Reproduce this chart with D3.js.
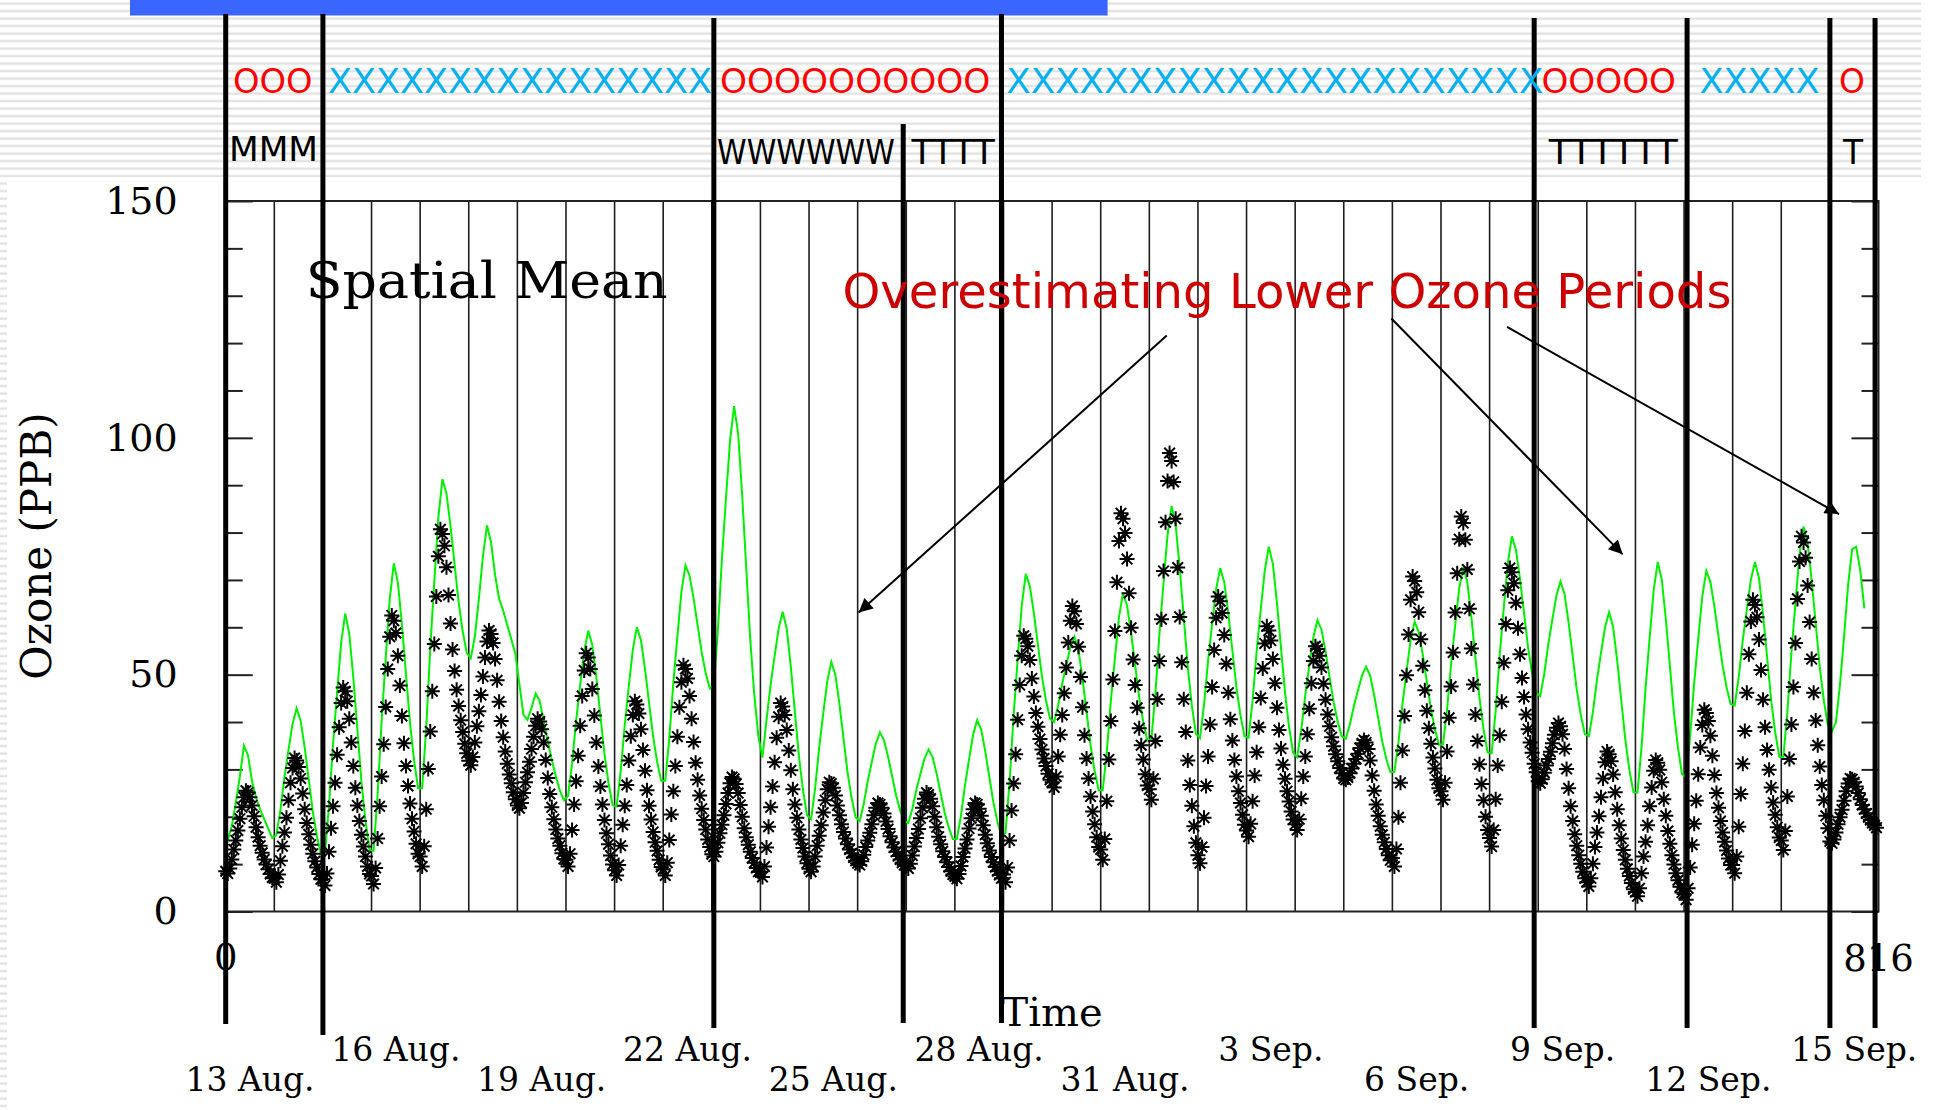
<!DOCTYPE html>
<html>
<head>
<meta charset="utf-8">
<title>Spatial Mean Ozone</title>
<script src="https://cdn.jsdelivr.net/npm/d3@7/dist/d3.min.js"></script>
<style>
  html, body { margin: 0; padding: 0; background: #fff; }
  svg { display: block; }
  .serif { font-family: "DejaVu Serif", serif; fill: #000; }
  .sans { font-family: "DejaVu Sans", Verdana, sans-serif; }
</style>
</head>
<body>
<svg id="chart" width="1934" height="1110"></svg>
<script>
// ---------------- data ----------------
const hourDomain = [0, 816];          // 13 Aug 00h .. 16 Sep 00h
const valueDomain = [0, 150];         // ppb
const yLabelValues = [0, 50, 100, 150];
const yMinorValues = [10, 20, 30, 40, 60, 70, 80, 90, 110, 120, 130, 140];

// date labels: day index (from 13 Aug) and row (1 = upper, 2 = lower)
const dateDays   = [0, 3, 6, 9, 12, 15, 18, 21, 24, 27, 30, 33];
const dateTexts  = ["13 Aug.", "16 Aug.", "19 Aug.", "22 Aug.", "25 Aug.", "28 Aug.",
                    "31 Aug.", "3 Sep.", "6 Sep.", "9 Sep.", "12 Sep.", "15 Sep."];
const dateRows   = [2, 1, 2, 1, 2, 1, 2, 1, 2, 1, 2, 1];

// hourly observed spatial-mean ozone (ppb), one row per day, hours 00..23
const observedPPB = [
  [8.5,8,9.1,11,13.1,15,17.1,19.6,22,24.1,25.5,25.1,24.1,22.4,20.1,17.8,15.7,13.9,12.4,11,9.9,8.9,7.9,7.2],
  [7,6.2,7.8,10.7,13.8,16.7,19.8,23.5,27.2,30.3,32.4,31.9,30.5,28.1,24.9,21.6,18.7,16.3,14.1,12.2,10.6,9.3,7.9,6.8],
  [6.8,5.5,8,12.6,17.6,22.2,27.2,33.1,38.9,44,47.3,46.5,44.4,40.7,35.7,30.7,26.1,22.4,19.1,16.2,13.7,11.6,9.5,7.9],
  [7.5,5.8,9.2,15.4,22.2,28.5,35.3,43.2,51.2,58,62.5,61.4,58.8,54,47.7,41.3,35.5,30.7,26.5,22.8,19.6,16.9,14.3,12.2],
  [11.6,9.5,13.8,21.6,30.1,38,46.5,56.5,66.5,75,80.7,79.7,77.2,72.7,66.8,60.8,55.3,50.8,46.8,43.4,40.4,37.9,35.4,33.4],
  [31.8,30.9,32.6,35.7,39.1,42.3,45.7,49.6,53.6,57,59.3,58.6,56.7,53.3,48.8,44.3,40.2,36.8,33.8,31.2,28.9,27.1,25.2,23.7],
  [22.4,21.8,22.9,25,27.3,29.4,31.6,34.3,36.9,39.2,40.7,40.1,38.5,35.7,32,28.2,24.8,22,19.5,17.3,15.4,13.9,12.3,11.1],
  [10.9,9.5,12.2,17.2,22.6,27.5,32.9,39.2,45.5,50.9,54.5,53.6,51.2,47,41.4,35.7,30.6,26.4,22.6,19.3,16.5,14.2,11.8,9.9],
  [8.7,7.6,9.8,13.9,18.3,22.3,26.7,31.9,37,41.5,44.4,43.7,41.8,38.5,34.1,29.7,25.6,22.3,19.4,16.8,14.6,12.8,10.9,9.4],
  [8.9,7.6,10.3,15.1,20.5,25.4,30.7,36.9,43.1,48.4,52,51.2,49.2,45.5,40.7,35.8,31.4,27.8,24.5,21.7,19.3,17.3,15.2,13.6],
  [12.1,11.6,12.6,14.5,16.5,18.3,20.3,22.7,25,27.1,28.4,28,26.9,25,22.5,20,17.6,15.7,14.1,12.6,11.3,10.3,9.2,8.4],
  [8.4,7.3,9.5,13.5,17.9,22,26.4,31.5,36.7,41.1,44,43.3,41.5,38.3,34,29.8,25.8,22.6,19.8,17.3,15.2,13.4,11.6,10.2],
  [9,8.4,9.5,11.6,13.9,16,18.2,20.9,23.5,25.8,27.3,27,26.1,24.5,22.4,20.3,18.4,16.8,15.4,14.2,13.1,12.3,11.4,10.7],
  [10.2,9.8,10.6,12,13.6,15,16.6,18.4,20.3,21.9,22.9,22.6,21.9,20.7,19,17.4,15.9,14.6,13.5,12.6,11.7,11,10.3,9.8],
  [9.6,9.1,10.1,11.8,13.7,15.5,17.4,19.7,21.9,23.8,25.1,24.7,23.8,22.2,20,17.8,15.8,14.2,12.7,11.5,10.4,9.4,8.5,7.8],
  [7.4,6.9,7.9,9.6,11.5,13.3,15.2,17.5,19.7,21.6,22.9,22.6,21.7,20.2,18.2,16.2,14.4,12.9,11.5,10.4,9.4,8.5,7.7,7],
  [7.8,6.2,9.3,15,21.3,27,33.2,40.5,47.8,54,58.2,57.6,56,53.1,49.2,45.4,41.9,39,36.4,34.2,32.3,30.7,29.1,27.8],
  [27.3,26.2,28.5,32.7,37.3,41.5,46.1,51.5,56.8,61.4,64.5,63.4,60.7,55.9,49.5,43.1,37.2,32.3,28.1,24.3,21.1,18.4,15.7,13.6],
  [13.1,10.9,15.3,23.3,32.1,40.2,49,59.2,69.5,78.2,84.1,82.9,79.9,74.4,67.2,59.9,53.2,47.8,43,38.7,35.1,32.1,29,26.6],
  [25.8,23.6,28,36,44.8,52.9,61.7,71.9,82.2,90.9,96.8,95.1,90.7,82.9,72.6,62.2,52.6,44.8,37.9,31.9,26.7,22.3,18,14.5],
  [11.9,10.2,13.6,19.8,26.5,32.7,39.5,47.4,55.2,62,66.5,65.5,63,58.4,52.3,46.2,40.6,36.1,32,28.5,25.4,22.9,20.4,18.3],
  [17.1,15.8,18.5,23.3,28.7,33.6,38.9,45.1,51.3,56.6,60.2,59.3,57.2,53.3,48.2,43,38.3,34.4,31,28,25.4,23.2,21.1,19.4],
  [18.4,17.2,19.5,23.8,28.5,32.7,37.4,42.8,48.2,52.9,56,55.4,54,51.5,48.1,44.7,41.6,39.1,36.8,34.9,33.2,31.7,30.3,29.2],
  [28.1,27.8,28.3,29.2,30.2,31.2,32.2,33.3,34.5,35.5,36.2,35.7,34.3,31.9,28.7,25.5,22.6,20.2,18,16.2,14.6,13.2,11.9,10.8],
  [11.3,9.5,13.2,19.9,27.2,34,41.3,49.9,58.5,65.8,70.7,69.8,67.4,63.2,57.5,51.9,46.7,42.4,38.7,35.4,32.5,30.2,27.8,26],
  [25.4,23.6,27.2,33.8,40.9,47.5,54.7,63.1,71.4,78.6,83.4,82,78.5,72.2,63.9,55.5,47.9,41.6,36,31.1,26.9,23.5,20,17.2],
  [15.5,13.7,17.2,23.7,30.8,37.2,44.3,52.5,60.7,67.8,72.5,71.6,69.3,65.2,59.8,54.3,49.3,45.3,41.6,38.5,35.7,33.5,31.2,29.4],
  [27.5,27.1,27.9,29.3,30.8,32.2,33.7,35.5,37.3,38.8,39.8,39.1,37.4,34.3,30.1,26,22.2,19.1,16.3,13.9,11.9,10.1,8.4,7],
  [6.2,5.3,7,10.1,13.6,16.7,20.1,24.1,28.1,31.5,33.8,33.2,31.7,28.9,25.2,21.6,18.2,15.4,13,10.9,9,7.5,6,4.7],
  [4.1,3.2,4.9,8.1,11.6,14.7,18.2,22.2,26.2,29.7,32,31.4,29.9,27.3,23.7,20.2,17,14.3,11.9,9.9,8.1,6.6,5.2,4],
  [3.7,2.5,4.9,9.3,14.1,18.5,23.4,29,34.6,39.4,42.6,41.9,40.2,37.1,32.9,28.8,25,21.9,19.1,16.7,14.7,12.9,11.2,9.8],
  [9.8,8.1,11.6,17.9,24.8,31.2,38.1,46.2,54.3,61.2,65.8,64.7,62.1,57.4,51,44.7,38.9,34.1,29.9,26.2,23,20.4,17.8,15.6],
  [15,13,17,24.3,32.2,39.5,47.4,56.7,66,73.9,79.2,77.9,74.7,68.8,61.1,53.3,46.2,40.3,35.1,30.6,26.7,23.5,20.2,17.6],
  [14.8,14.4,15.2,16.7,18.4,19.9,21.5,23.4,25.4,27,28.1,27.9,27.3,26.4,25,23.7,22.5,21.6,20.7,19.9,19.3,18.7,18.2,17.7]
];

// modelled spatial-mean ozone (ppb) at odd hours 01, 03, ... 23 of each day
const modelPPB = [
  [15,18,23,28.5,35,33,27.5,24,21.5,19.5,17.5,15.5],
  [16.1,21.4,28.3,34.1,39.6,42.9,40.3,34.6,27.9,21.1,16,12.2],
  [12.5,22.3,35.3,46.3,56.7,62.9,58.7,49.4,38.5,27.5,19.2,13],
  [12.8,24.7,40.3,53.5,66,73.5,69.5,60.6,50.2,39.8,31.9,26],
  [26,38.8,55.6,69.8,83.2,91.3,88.2,81.4,73.3,65.3,59.2,54.6],
  [53.5,58,66,75,81.5,78,71,66,63.5,60.5,57.5,54.5],
  [48,41.5,40.5,43,46,44.5,40,36,32,28.5,25.5,23.5],
  [24.4,31.2,40.2,47.8,55,59.3,56.2,49.3,41.3,33.3,27.1,22.5],
  [22.2,29.6,39.3,47.5,55.3,60,57.3,51.2,44.1,37,31.6,27.6],
  [27.6,36.5,48.2,58.1,67.5,73.1,70.9,66.1,60.4,54.7,50.3,47.1],
  [47.8,59.4,74.5,87.3,99.4,106.7,100.9,87.8,72.5,57.3,45.6,36.9],
  [32.5,40.4,47.8,53.9,59.8,63.3,59.7,51.7,42.2,32.8,25.7,20.3],
  [19.5,26,34.6,41.8,48.6,52.7,50,43.8,36.6,29.4,24,19.9],
  [19.1,22.7,27.6,31.6,35.5,37.8,36.2,32.7,28.6,24.5,21.3,19],
  [18.7,21.7,25.7,29.1,32.3,34.2,32.6,29.1,24.9,20.8,17.7,15.3],
  [15.3,20.2,26.7,32.1,37.3,40.4,38.4,33.8,28.4,23.1,19,15.9],
  [16.6,27.3,41.4,53.3,64.5,71.3,68.7,63,56.3,49.6,44.5,40.7],
  [40,43.5,48.1,52,55.8,58,55.3,49.2,42.2,35.1,29.7,25.6],
  [25.6,33.7,44.5,53.5,62.1,67.2,64.6,58.8,52,45.2,40,36.1],
  [36.3,46,58.7,69.3,79.5,85.6,81.6,72.6,62.1,51.5,43.5,37.5],
  [36.6,43.6,52.9,60.7,68.1,72.5,69.5,62.9,55.1,47.3,41.4,37],
  [36.7,44.6,55,63.7,72,77,73.4,65.2,55.7,46.2,38.9,33.5],
  [32.6,38.3,45.7,52,57.9,61.5,59.5,54.9,49.5,44.2,40.1,37],
  [36.5,39.5,43.4,46.7,49.8,51.7,49.8,45.7,40.8,35.9,32.2,29.4],
  [29.5,35.7,43.9,50.7,57.3,61.2,59,54.2,48.5,42.8,38.4,35.2],
  [35.3,42.6,52.3,60.4,68.2,72.8,69.5,62.2,53.6,45.1,38.5,33.6],
  [33.4,42.4,54.2,64.1,73.5,79.2,76.4,70.2,63,55.7,50.2,46.1],
  [45.5,50.2,56.5,61.7,66.7,69.7,67,61,54,46.9,41.6,37.5],
  [37,42.1,48.9,54.6,60,63.2,60,52.9,44.6,36.3,29.9,25.2],
  [25.1,34.6,47.2,57.7,67.8,73.8,70.1,61.7,51.9,42,34.6,29],
  [28.4,37,48.2,57.6,66.5,71.9,69.6,64.3,58.1,52,47.3,43.8],
  [43.5,49.5,57.3,63.8,70.1,73.8,70.4,62.7,53.7,44.7,37.8,32.7],
  [32.5,42.1,54.6,65.2,75.3,81.3,77.8,69.9,60.8,51.6,44.6,39.3],
  [38,40,48,58,69,76.5,77,72,64]
];

// period dividers (hour on the time axis) with their vertical extent in px
const dividerHours  = [0, 48, 241, 334.5, 383, 646, 721.5, 792, 814.3];
const dividerTops   = [14, 14, 18, 124, 14, 18, 18, 18, 18];
const dividerBottoms= [1024, 1035, 1028, 1023, 1023, 1028, 1028, 1028, 1028];

// regime codes (upper row) and weather codes (lower row), spans in hours
const regimeTexts = ["OOO", "XXXXXXXXXXXXXXXX", "OOOOOOOOOO", "XXXXXXXXXXXXXXXXXXXXXX", "OOOOO", "XXXXX", "O"];
const regimeFrom  = [3.6, 50.5, 244, 385.4, 649.6, 727.6, 796.5];
const regimeTo    = [42.9, 240.2, 377.6, 650.6, 716, 786.9, 809.3];
const weatherTexts = ["MMM", "WWWWWW", "TTTT", "TTTTTT", "T"];
const weatherFrom  = [1.6, 242.6, 338.6, 653.2, 798.5];
const weatherTo    = [45.6, 330.4, 379.8, 717, 808.4];

// callout arrows, [hour, ppb] from -> to
const arrowFrom = [[464.6, 121.6], [575.5, 125.2], [632.6, 123.4]];
const arrowTo   = [[312.5, 63.1], [689.7, 75.4], [796.5, 83.9]];

// ---------------- drawing ----------------
const svg = d3.select("#chart");
const x = d3.scaleLinear().domain(hourDomain).range([225.7, 1878.5]);
const y = d3.scaleLinear().domain(valueDomain).range([911.5, 201]);

const defs = svg.append("defs");
const pat = defs.append("pattern").attr("id", "stripes")
  .attr("patternUnits", "userSpaceOnUse").attr("width", 8).attr("height", 7.5);
pat.append("rect").attr("width", 8).attr("height", 7.5).attr("fill", "#fff");
pat.append("rect").attr("y", 2.4).attr("width", 8).attr("height", 2.4).attr("fill", "#e2e2e2");

defs.append("marker").attr("id", "head")
  .attr("viewBox", "0 0 10 10").attr("refX", 10).attr("refY", 5)
  .attr("markerUnits", "userSpaceOnUse")
  .attr("markerWidth", 19).attr("markerHeight", 14).attr("orient", "auto")
  .append("path").attr("d", "M0,0L10,5L0,10Z").attr("fill", "#000");

// slide background
svg.append("rect").attr("width", 1934).attr("height", 1110).attr("fill", "#fff");
svg.append("rect").attr("x", 0).attr("y", 0).attr("width", 1921).attr("height", 177).attr("fill", "url(#stripes)");
svg.append("rect").attr("x", 0).attr("y", 177).attr("width", 7).attr("height", 933).attr("fill", "url(#stripes)");

// title banner
svg.append("rect").attr("x", 130).attr("y", 0).attr("width", 977.6).attr("height", 15.5).attr("fill", "#3a66ff");

// daily grid
const g = svg.append("g");
g.selectAll("line.day").data(d3.range(24, 816, 24)).join("line")
  .attr("x1", d => x(d)).attr("x2", d => x(d))
  .attr("y1", y(0)).attr("y2", y(150))
  .attr("stroke", "#1e1e1e").attr("stroke-width", 1.6);

// frame
g.append("rect").attr("x", x(0)).attr("y", y(150))
  .attr("width", x(816) - x(0)).attr("height", y(0) - y(150))
  .attr("fill", "none").attr("stroke", "#222").attr("stroke-width", 2);

// y axis: minor ticks, then labelled major ticks (both pointing inward)
const minorL = d3.axisLeft(y).tickValues(yMinorValues).tickSize(-17).tickFormat("");
const majorL = d3.axisLeft(y).tickValues(yLabelValues).tickSize(-27).tickPadding(48).tickFormat(d3.format("d"));
const minorR = d3.axisRight(y).tickValues(yMinorValues).tickSize(-17).tickFormat("");
const majorR = d3.axisRight(y).tickValues(yLabelValues).tickSize(-27).tickFormat("");
[minorL, majorL].forEach(a => g.append("g").attr("transform", `translate(${x(0)},0)`).call(a));
[minorR, majorR].forEach(a => g.append("g").attr("transform", `translate(${x(816)},0)`).call(a));
g.selectAll(".domain").remove();
g.selectAll(".tick line").attr("stroke", "#222").attr("stroke-width", 2);
g.selectAll(".tick text").attr("class", "serif").attr("font-size", 38);

// model line
const modelPoints = modelPPB.flatMap((day, d) => day.map((v, i) => ({ h: d * 24 + 1 + 2 * i, v })));
g.append("path").datum(modelPoints)
  .attr("fill", "none").attr("stroke", "#00f000").attr("stroke-width", 2)
  .attr("d", d3.line().x(p => x(p.h)).y(p => y(p.v)));

// observations as asterisks
const obsPoints = observedPPB.flatMap((day, d) => day.map((v, i) => ({ h: d * 24 + i, v })));
const star = "M-7.5,0H7.5M0,-7.5V7.5M-5.3,-5.3L5.3,5.3M-5.3,5.3L5.3,-5.3";
g.selectAll("path.obs").data(obsPoints).join("path").attr("class", "obs")
  .attr("transform", p => `translate(${x(p.h)},${y(p.v)})`)
  .attr("d", star).attr("fill", "none").attr("stroke", "#000").attr("stroke-width", 2);

// axis texts
g.append("text").attr("class", "serif").attr("font-size", 42)
  .attr("transform", "translate(36,546) rotate(-90)")
  .attr("text-anchor", "middle").attr("dominant-baseline", "central").text("Ozone (PPB)");
g.append("text").attr("class", "serif").attr("font-size", 40)
  .attr("x", x(408)).attr("y", 1026).attr("text-anchor", "middle").text("Time");
g.append("text").attr("class", "serif").attr("font-size", 37)
  .attr("x", x(0)).attr("y", 970).attr("text-anchor", "middle").text("0");
g.append("text").attr("class", "serif").attr("font-size", 37)
  .attr("x", x(816)).attr("y", 971).attr("text-anchor", "middle").text("816");
g.selectAll("text.date").data(dateDays).join("text").attr("class", "serif date")
  .attr("font-size", 33)
  .attr("x", (d) => x(d * 24 + 12))
  .attr("y", (d, i) => dateRows[i] === 1 ? 1061 : 1091)
  .attr("text-anchor", "middle")
  .text((d, i) => dateTexts[i]);

g.append("text").attr("class", "serif").attr("font-size", 50)
  .attr("x", x(39.5)).attr("y", y(129.6))
  .attr("textLength", 362).attr("lengthAdjust", "spacingAndGlyphs")
  .text("Spatial Mean");

// period dividers
svg.append("g").selectAll("line").data(dividerHours).join("line")
  .attr("x1", h => x(h)).attr("x2", h => x(h))
  .attr("y1", (h, i) => dividerTops[i]).attr("y2", (h, i) => dividerBottoms[i])
  .attr("stroke", "#000").attr("stroke-width", 5);

// code rows: each run of letters is stretched or squeezed horizontally to its span
function fitRun(sel, from, to, baseline) {
  sel.each(function (t, i) {
    const natural = this.getComputedTextLength();
    const target = x(to[i]) - x(from[i]);
    const k = target / natural;
    d3.select(this).attr("x", 0).attr("y", 0)
      .attr("transform", `translate(${x(from[i])},${baseline(i)}) scale(${k.toFixed(4)},1)`);
  });
}
const codes = svg.append("g").attr("class", "sans");
const regime = codes.selectAll("text.regime").data(regimeTexts).join("text").attr("class", "regime")
  .attr("font-size", 34.5)
  .attr("fill", t => t[0] === "O" ? "#ff0000" : "#00b0f0")
  .text(t => t);
fitRun(regime, regimeFrom, regimeTo, () => 93);
const weather = codes.selectAll("text.weather").data(weatherTexts).join("text").attr("class", "weather")
  .attr("font-size", 34.5)
  .attr("fill", "#000")
  .text(t => t);
fitRun(weather, weatherFrom, weatherTo, i => i === 0 ? 161 : 164);

// callout
svg.append("text").attr("class", "sans").attr("font-size", 48)
  .attr("x", x(304.5)).attr("y", y(127.4)).attr("fill", "#cc0000")
  .attr("textLength", 889).attr("lengthAdjust", "spacingAndGlyphs")
  .text("Overestimating Lower Ozone Periods");
svg.append("g").selectAll("line").data(arrowFrom).join("line")
  .attr("x1", p => x(p[0])).attr("y1", p => y(p[1]))
  .attr("x2", (p, i) => x(arrowTo[i][0])).attr("y2", (p, i) => y(arrowTo[i][1]))
  .attr("stroke", "#000").attr("stroke-width", 2).attr("marker-end", "url(#head)");
</script>
</body>
</html>
